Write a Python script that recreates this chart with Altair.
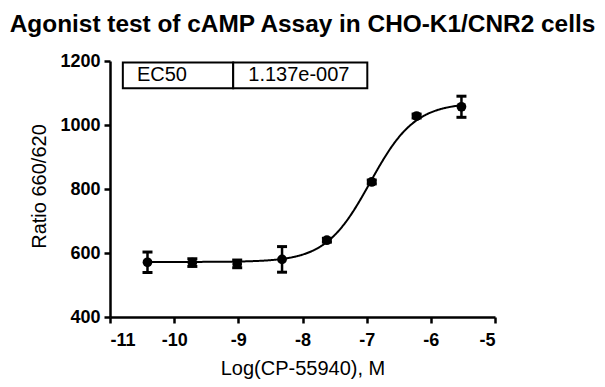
import altair as alt
import pandas as pd

# Measured data (log molar concentration of CP-55940, mean ratio, SEM)
log_conc = [-10.4157, -9.7167, -9.0177, -8.3188, -7.6198, -6.9208, -6.2218, -5.5229]
ratio_mean = [571, 570, 566, 580, 640, 822, 1028, 1057]
ratio_err = [32, 12, 12, 40, 6, 6, 6, 33]

# Reported 4-parameter fit
fit_bottom = 572
fit_top = 1070
fit_ec50 = 1.137e-7
fit_hill = 1.25

# Axis ticks
x_ticks = [-11, -10, -9, -8, -7, -6, -5]
y_ticks = [400, 600, 800, 1000, 1200]

# EC50 results table (in data units)
table_labels = ["EC50", "1.137e-007"]
table_x0 = [-10.80, -9.08]
table_x1 = [-9.08, -6.99]
table_text_x = [-10.58, -8.845]
table_y0 = [1115, 1115]
table_y1 = [1195, 1195]
table_text_y = [1155, 1155]

FONT = "Liberation Sans"

pts = pd.DataFrame({"x": log_conc, "y": ratio_mean, "e": ratio_err})
pts["lo"] = pts["y"] - pts["e"]
pts["hi"] = pts["y"] + pts["e"]

tbl = pd.DataFrame({
    "label": table_labels, "x0": table_x0, "x1": table_x1, "tx": table_text_x,
    "y0": table_y0, "y1": table_y1, "ty": table_text_y,
})

xscale = alt.Scale(domain=[-11, -5], nice=False, zero=False)
yscale = alt.Scale(domain=[400, 1200], nice=False, zero=False)

xaxis = alt.Axis(
    values=x_ticks, title="Log(CP-55940), M", labelExpr="'' + datum.value",
    titleY=57, titleBaseline="alphabetic",
)
yaxis = alt.Axis(
    values=y_ticks, title="Ratio 660/620", labelExpr="'' + datum.value",
    titleX=-65, titleY=125, titleBaseline="alphabetic",
)

lx = log_conc[0]
hx = log_conc[-1]

curve = (
    alt.Chart(alt.sequence(start=lx, stop=hx + 0.01, step=0.01, as_="x"))
    .transform_calculate(
        y=f"{fit_bottom} + ({fit_top} - {fit_bottom}) / (1 + pow(10, ({fit_hill}) * (log({fit_ec50}) / LN10 - datum.x)))"
    )
    .mark_line(color="black", strokeWidth=2)
    .encode(
        x=alt.X("x:Q", scale=xscale, axis=xaxis),
        y=alt.Y("y:Q", scale=yscale, axis=yaxis),
    )
)

base = alt.Chart(pts)
bars = base.mark_rule(color="black", strokeWidth=2.5, opacity=1).encode(
    x=alt.X("x:Q", scale=xscale, axis=xaxis),
    y=alt.Y("lo:Q", scale=yscale, axis=yaxis),
    y2="hi:Q",
)
cap_lo = base.mark_tick(color="black", orient="horizontal", size=10, thickness=3, opacity=1).encode(
    x=alt.X("x:Q", scale=xscale, axis=xaxis),
    y=alt.Y("lo:Q", scale=yscale, axis=yaxis),
)
cap_hi = base.mark_tick(color="black", orient="horizontal", size=10, thickness=3, opacity=1).encode(
    x=alt.X("x:Q", scale=xscale, axis=xaxis),
    y=alt.Y("hi:Q", scale=yscale, axis=yaxis),
)
points = base.mark_point(filled=True, shape="circle", size=95, color="black", opacity=1).encode(
    x=alt.X("x:Q", scale=xscale, axis=xaxis),
    y=alt.Y("y:Q", scale=yscale, axis=yaxis),
)

tb = alt.Chart(tbl)
cells = tb.mark_rect(fill="white", stroke="black", strokeWidth=2, opacity=1).encode(
    x=alt.X("x0:Q", scale=xscale, axis=xaxis),
    x2="x1:Q",
    y=alt.Y("y0:Q", scale=yscale, axis=yaxis),
    y2="y1:Q",
)
texts = tb.mark_text(align="left", baseline="middle", font=FONT, fontSize=20, color="black").encode(
    x=alt.X("tx:Q", scale=xscale, axis=xaxis),
    y=alt.Y("ty:Q", scale=yscale, axis=yaxis),
    text="label:N",
)

chart = (
    alt.layer(curve, bars, cap_lo, cap_hi, points, cells, texts)
    .properties(
        width=385,
        height=256,
        autosize=alt.AutoSizeParams(type="none"),
        padding={"left": 102, "top": 53, "right": 100, "bottom": 62},
        title=alt.TitleParams(
            text="Agonist test of cAMP Assay in CHO-K1/CNR2 cells",
            font=FONT, fontSize=24.4, fontWeight="bold", color="black",
            anchor="middle", frame="group", offset=-4, baseline="alphabetic",
        ),
    )
    .configure_view(stroke=None)
    .configure_axis(
        grid=False,
        domainColor="black", domainWidth=2.5,
        tickColor="black", tickWidth=2.5, tickSize=6,
        labelFont=FONT, labelFontSize=18, labelFontWeight="bold", labelColor="black",
        titleFont=FONT, titleFontSize=20, titleFontWeight="normal", titleColor="black",
    )
    .configure_axisX(labelPadding=8)
    .configure_axisY(labelPadding=4)
)

chart.save("out.html", embed_options={"renderer": "svg", "actions": False})
